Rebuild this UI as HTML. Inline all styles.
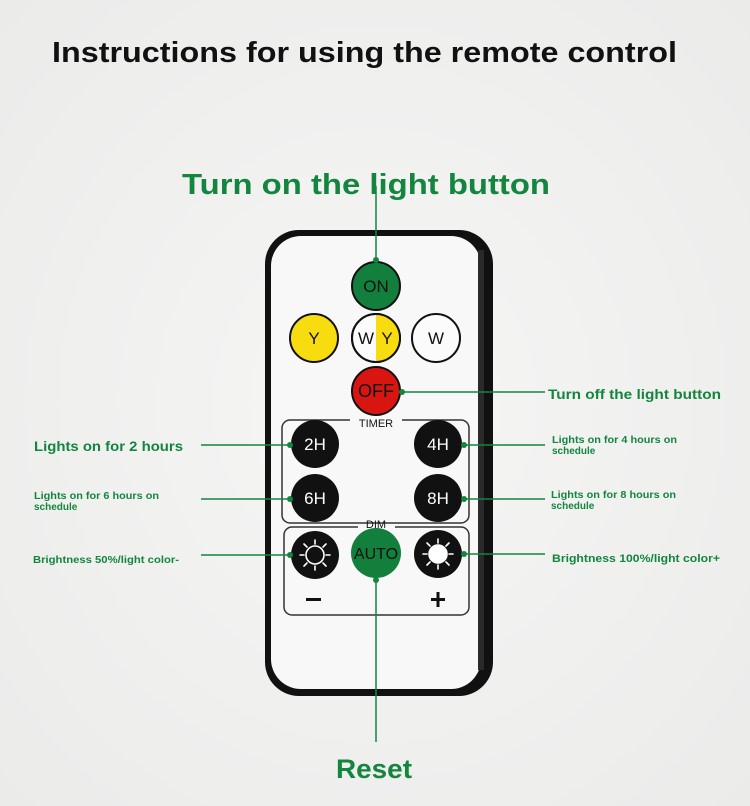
<!DOCTYPE html>
<html><head><meta charset="utf-8"><style>
html,body{margin:0;padding:0;background:#f1f1f0;}
svg{display:block;font-family:"Liberation Sans",sans-serif;}
</style></head><body>
<svg width="750" height="806" viewBox="0 0 750 806" xmlns="http://www.w3.org/2000/svg">
<defs>
<radialGradient id="bg" cx="50%" cy="50%" r="70%"><stop offset="0" stop-color="#f6f6f5"/><stop offset="1" stop-color="#ebebea"/></radialGradient>
</defs>
<rect width="750" height="806" fill="url(#bg)"/>
<text x="52" y="62" font-size="29" font-weight="bold" fill="#111" textLength="625" lengthAdjust="spacingAndGlyphs">Instructions for using the remote control</text>
<text x="182" y="194" font-size="29" font-weight="bold" fill="#13853f" textLength="368" lengthAdjust="spacingAndGlyphs">Turn on the light button</text>

<!-- remote -->
<rect x="265" y="230" width="228" height="466" rx="34" fill="#111"/>
<rect x="271" y="236" width="210" height="453" rx="30" fill="#f8f8f8"/>
<rect x="478" y="250" width="6" height="420" fill="#2a2a2a"/>

<g stroke="#111" stroke-width="2">
<circle cx="376" cy="286" r="24" fill="#137f3c"/>
<circle cx="314" cy="338" r="24" fill="#f7dd10"/>
<circle cx="376" cy="338" r="24" fill="#fbfbfb"/>
<path d="M376 314 A24 24 0 0 1 376 362 Z" fill="#f7dd10" stroke="none"/>
<circle cx="376" cy="338" r="24" fill="none"/>
<circle cx="436" cy="338" r="24" fill="#fbfbfb"/>
<circle cx="376" cy="391" r="24" fill="#d81510"/>
</g>
<g font-size="17" text-anchor="middle" fill="#111">
<text x="376" y="292">ON</text>
<text x="314" y="344">Y</text>
<text x="366" y="344">W</text>
<text x="387" y="344">Y</text>
<text x="436" y="344">W</text>
<text x="376" y="397" font-size="18">OFF</text>
</g>

<!-- timer box -->
<path d="M350 420 H290 a8 8 0 0 0 -8 8 V515 a8 8 0 0 0 8 8 H461 a8 8 0 0 0 8 -8 V428 a8 8 0 0 0 -8 -8 H402" fill="none" stroke="#333" stroke-width="1.5"/>
<text x="376" y="427" font-size="11" text-anchor="middle" fill="#111">TIMER</text>
<path d="M358 527 H292 a8 8 0 0 0 -8 8 V607 a8 8 0 0 0 8 8 H461 a8 8 0 0 0 8 -8 V535 a8 8 0 0 0 -8 -8 H395" fill="none" stroke="#333" stroke-width="1.5"/>
<text x="376" y="528" font-size="11" text-anchor="middle" fill="#111">DIM</text>

<g fill="#111">
<circle cx="315" cy="444" r="24"/><circle cx="438" cy="444" r="24"/>
<circle cx="315" cy="498" r="24"/><circle cx="438" cy="498" r="24"/>
<circle cx="315" cy="555" r="24"/><circle cx="438" cy="554" r="24"/>
</g>
<circle cx="376" cy="553" r="25" fill="#137f3c"/>
<g font-size="17" text-anchor="middle" fill="#fff">
<text x="315" y="450">2H</text><text x="438" y="450">4H</text>
<text x="315" y="504">6H</text><text x="438" y="504">8H</text>
</g>
<text x="376" y="559" font-size="16" text-anchor="middle" fill="#111">AUTO</text>
<!-- sun icons -->
<g stroke="#fff" stroke-width="1.6" stroke-linecap="round">
<circle cx="315" cy="555" r="9" fill="none"/>
<path d="M315 540v4M315 566v4M300 555h4M326 555h4M304 544l3 3M323 563l3 3M326 544l-3 3M307 563l-3 3"/>
<circle cx="438" cy="554" r="9" fill="#fff"/>
<path d="M438 539v4M438 565v4M423 554h4M449 554h4M427 543l3 3M446 562l3 3M449 543l-3 3M430 562l-3 3"/>
</g>
<rect x="306" y="598" width="15" height="3" fill="#111"/>
<rect x="431" y="598" width="14" height="3" fill="#111"/>
<rect x="436.5" y="592" width="3" height="15" fill="#111"/>

<!-- connectors -->
<g stroke="#13853f" stroke-width="1.5" fill="none">
<path d="M376 186V260"/>
<path d="M402 392H545"/>
<path d="M201 445H290"/><path d="M201 499H290"/><path d="M201 555H290"/>
<path d="M464 445H545"/><path d="M464 499H545"/><path d="M464 554H545"/>
<path d="M376 580V742"/>
</g>
<g fill="#13853f">
<circle cx="376" cy="260" r="3"/><circle cx="402" cy="392" r="3"/>
<circle cx="290" cy="445" r="3"/><circle cx="290" cy="499" r="3"/><circle cx="290" cy="555" r="3"/>
<circle cx="464" cy="445" r="3"/><circle cx="464" cy="499" r="3"/><circle cx="464" cy="554" r="3"/>
<circle cx="376" cy="580" r="3"/>
</g>

<g fill="#13853f" font-weight="bold" lengthAdjust="spacingAndGlyphs">
<text x="548" y="399" font-size="14" textLength="173" lengthAdjust="spacingAndGlyphs">Turn off the light button</text>
<text x="34" y="451" font-size="14" textLength="149" lengthAdjust="spacingAndGlyphs">Lights on for 2 hours</text>
<text x="34" y="499" font-size="10" textLength="125" lengthAdjust="spacingAndGlyphs">Lights on for 6 hours on</text>
<text x="34" y="510" font-size="10">schedule</text>
<text x="33" y="563" font-size="10" textLength="146" lengthAdjust="spacingAndGlyphs">Brightness 50%/light color-</text>
<text x="552" y="443" font-size="10" textLength="125" lengthAdjust="spacingAndGlyphs">Lights on for 4 hours on</text>
<text x="552" y="454" font-size="10">schedule</text>
<text x="551" y="498" font-size="10" textLength="125" lengthAdjust="spacingAndGlyphs">Lights on for 8 hours on</text>
<text x="551" y="509" font-size="10">schedule</text>
<text x="552" y="562" font-size="11" textLength="168" lengthAdjust="spacingAndGlyphs">Brightness 100%/light color+</text>
<text x="336" y="778" font-size="27" textLength="76" lengthAdjust="spacingAndGlyphs">Reset</text>
</g>
</svg>
</body></html>
